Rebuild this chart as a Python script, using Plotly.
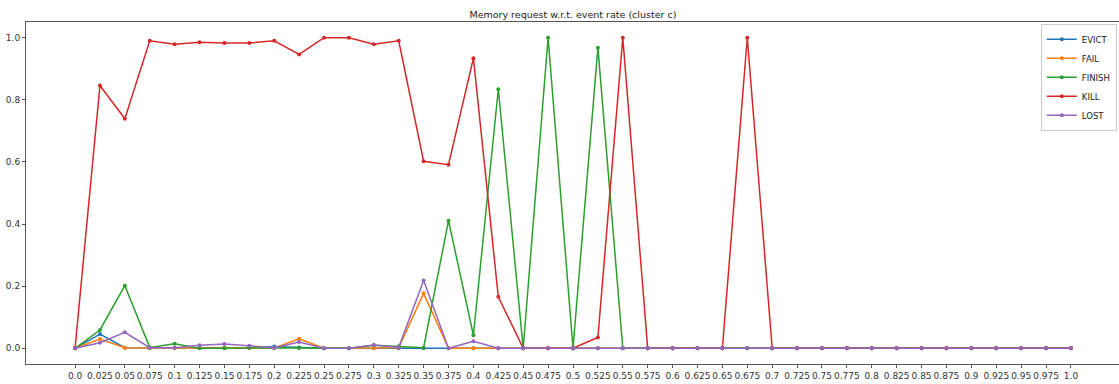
import plotly.graph_objects as go

rates = ["0.0", "0.025", "0.05", "0.075", "0.1", "0.125", "0.15", "0.175", "0.2", "0.225",
         "0.25", "0.275", "0.3", "0.325", "0.35", "0.375", "0.4", "0.425", "0.45", "0.475",
         "0.5", "0.525", "0.55", "0.575", "0.6", "0.625", "0.65", "0.675", "0.7", "0.725",
         "0.75", "0.775", "0.8", "0.825", "0.85", "0.875", "0.9", "0.925", "0.95", "0.975", "1.0"]

evict = [0.0, 0.046, 0.002, 0.001, 0.001, 0.001, 0.001, 0.002, 0.006, 0.003,
         0.0, 0.0, 0.0, 0.0, 0.0, 0.0, 0.0, 0.0, 0.0, 0.0,
         0.0, 0.0, 0.0, 0.0, 0.0, 0.0, 0.0, 0.0, 0.0, 0.0,
         0.0, 0.0, 0.0, 0.0, 0.0, 0.0, 0.0, 0.0, 0.0, 0.0, 0.0]
fail = [0.0, 0.030, 0.002, 0.001, 0.001, 0.001, 0.001, 0.001, 0.001, 0.031,
        0.0, 0.0, 0.0, 0.002, 0.177, 0.0, 0.0, 0.0, 0.0, 0.0,
        0.0, 0.0, 0.0, 0.0, 0.0, 0.0, 0.0, 0.0, 0.0, 0.0,
        0.0, 0.0, 0.0, 0.0, 0.0, 0.0, 0.0, 0.0, 0.0, 0.0, 0.0]
finish = [0.0, 0.059, 0.2015, 0.003, 0.015, 0.0, 0.0, 0.002, 0.002, 0.001,
          0.0, 0.0, 0.010, 0.007, 0.002, 0.411, 0.042, 0.834, 0.0, 1.0,
          0.0, 0.968, 0.0, 0.0, 0.0, 0.0, 0.0, 0.0, 0.0, 0.0,
          0.0, 0.0, 0.0, 0.0, 0.0, 0.0, 0.0, 0.0, 0.0, 0.0, 0.0]
kill = [0.0, 0.846, 0.739, 0.99, 0.979, 0.985, 0.983, 0.983, 0.99, 0.946,
        1.0, 1.0, 0.979, 0.99, 0.602, 0.591, 0.934, 0.166, 0.0, 0.0,
        0.0, 0.035, 1.0, 0.0, 0.0, 0.0, 0.0, 1.0, 0.0, 0.0,
        0.0, 0.0, 0.0, 0.0, 0.0, 0.0, 0.0, 0.0, 0.0, 0.0, 0.0]
lost = [0.0, 0.018, 0.0515, 0.002, 0.002, 0.010, 0.014, 0.008, 0.002, 0.020,
        0.0, 0.0, 0.011, 0.003, 0.218, 0.0, 0.0225, 0.0, 0.0, 0.0,
        0.0, 0.0, 0.0, 0.0, 0.0, 0.0, 0.0, 0.0, 0.0, 0.0,
        0.0, 0.0, 0.0, 0.0, 0.0, 0.0, 0.0, 0.0, 0.0, 0.0, 0.0]

series_names = ["EVICT", "FAIL", "FINISH", "KILL", "LOST"]
series_values = [evict, fail, finish, kill, lost]
colors = ["#1f77b4", "#ff7f0e", "#2ca02c", "#d62728", "#9467bd"]

fig = go.Figure()
for name, vals, c in zip(series_names, series_values, colors):
    fig.add_trace(go.Scatter(
        x=rates, y=vals, name=name, mode="lines+markers",
        line=dict(color=c, width=1.5),
        marker=dict(color=c, size=4),
    ))

fig.update_layout(
    width=1119, height=384,
    margin=dict(l=26, r=0, t=22, b=20),
    paper_bgcolor="white", plot_bgcolor="white",
    font=dict(family="DejaVu Sans", size=9, color="#333333"),
    title=dict(text="Memory request w.r.t. event rate (cluster c)",
               x=0.512, xanchor="center", y=0.963, yanchor="middle",
               font=dict(size=9.5, color="#222222")),
    showlegend=True,
    legend=dict(x=0.998, xanchor="right", y=0.995, yanchor="top",
                bgcolor="rgba(255,255,255,0.8)", bordercolor="#cccccc", borderwidth=1,
                font=dict(size=8.5, color="#222222"),
                itemwidth=30, tracegroupgap=0),
)
fig.update_xaxes(
    type="category", range=[-1.97, 41.93],
    tickmode="array", tickvals=rates, ticktext=rates, tickangle=0,
    showgrid=False, zeroline=False,
    showline=True, linecolor="#555555", linewidth=1, mirror=True,
    ticks="outside", ticklen=3, tickcolor="#555555",
    tickfont=dict(size=9, color="#333333"),
)
fig.update_yaxes(
    range=[-0.0505, 1.0505],
    tickmode="array", tickvals=[0.0, 0.2, 0.4, 0.6, 0.8, 1.0],
    ticktext=["0.0", "0.2", "0.4", "0.6", "0.8", "1.0"],
    showgrid=False, zeroline=False,
    showline=True, linecolor="#555555", linewidth=1,
    ticks="outside", ticklen=3, tickcolor="#555555",
    tickfont=dict(size=9, color="#333333"),
)

fig.write_html("out.html")
